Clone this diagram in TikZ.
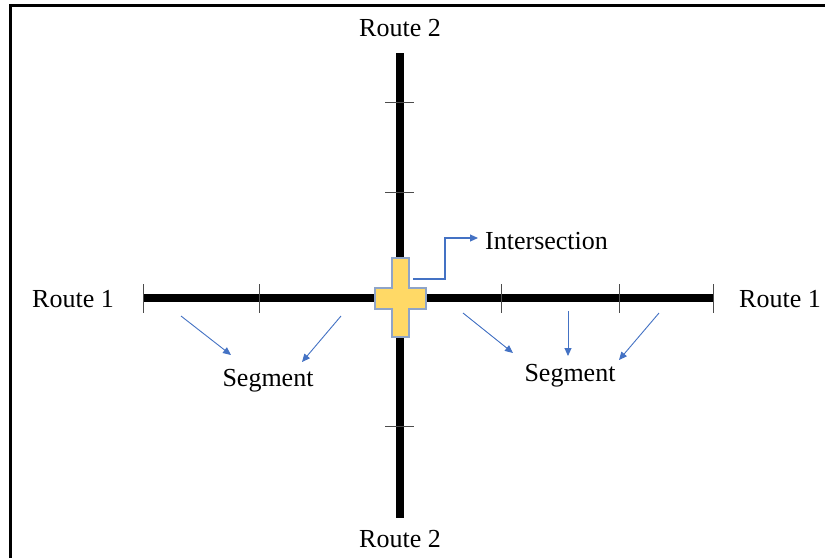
\documentclass[tikz,border=0pt]{standalone}
\usepackage{fontspec}
\setmainfont{Liberation Serif}
\usetikzlibrary{arrows.meta}
\definecolor{crossfill}{HTML}{FFD966}
\definecolor{crossline}{HTML}{8EA4C8}
\definecolor{arrowblue}{HTML}{4472C4}
\tikzset{
  route/.style={line width=8pt, black},
  tickmark/.style={line width=1pt, black!70},
  pointer/.style={arrowblue, line width=1.1pt, -{Triangle[length=8pt,width=7pt]}},
  lab/.style={font=\fontsize{26}{29}\selectfont, inner sep=0pt},
}
\begin{document}
\begin{tikzpicture}[x=1pt,y=-1pt]
\useasboundingbox (0,0) rectangle (825,558);
\fill[white] (0,0) rectangle (825,558);
% frame
\draw[line width=2.5pt] (10.5,558) -- (10.5,5.5) -- (825,5.5);
% route coordinates
\coordinate (h1) at (143,298);
\coordinate (h2) at (713,298);
\coordinate (v1) at (400,53);
\coordinate (v2) at (400,518);
\draw[route] (h1) -- (h2);
\draw[route] (v1) -- (v2);
% ticks horizontal
\foreach \x in {143,259,501,619,713}{
  \draw[tickmark] (\x,284) -- (\x,313);
}
% ticks vertical
\foreach \y in {102,192,426}{
  \draw[tickmark] (385,\y) -- (414,\y);
}
% intersection cross
\draw[crossline, fill=crossfill, line width=1.2pt]
  (392,258) -- (409,258) -- (409,288) -- (426,288) -- (426,309) -- (409,309)
  -- (409,337) -- (392,337) -- (392,309) -- (375,309) -- (375,288) -- (392,288) -- cycle;
% labels
\node[lab] (r2t) at (400,28) {Route 2};
\node[lab] (r2b) at (400,539) {Route 2};
\node[lab] (r1l) at (73,299) {Route 1};
\node[lab] (r1r) at (780,299) {Route 1};
\node[lab, anchor=west] (inter) at (485,241) {Intersection};
\node[lab] (segl) at (268,381) {Segment};
\node[lab] (segr) at (570,376) {Segment};
% intersection pointer
\coordinate (ip) at (413,279);
\coordinate (ie) at (478,238);
\draw[pointer] (ip) -- (445,279) -- (445,238) -- (ie);
% segment pointers
\coordinate (a1) at (181,316); \coordinate (b1) at (231,355);
\coordinate (a2) at (341,316); \coordinate (b2) at (302,362);
\coordinate (a3) at (463,313); \coordinate (b3) at (513,353);
\coordinate (a4) at (568,311); \coordinate (b4) at (568,356);
\coordinate (a5) at (659,313); \coordinate (b5) at (619,360);
\foreach \i in {1,...,5}{
  \draw[pointer, line width=0.9pt] (a\i) -- (b\i);
}
\end{tikzpicture}
\end{document}
